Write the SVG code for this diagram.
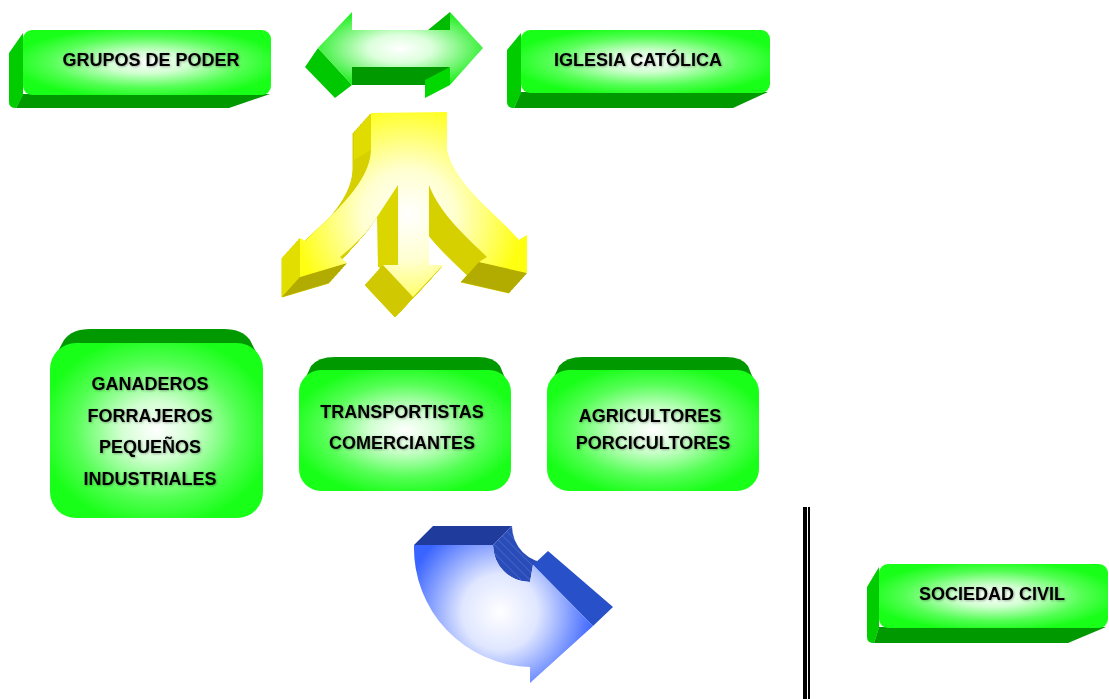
<svg xmlns="http://www.w3.org/2000/svg" xmlns:xlink="http://www.w3.org/1999/xlink" width="1109" height="699" viewBox="0 0 1109 699">
<style>
.lbl{font-family:"Liberation Sans",Arial,sans-serif;font-weight:bold;font-size:18px;fill:#000;text-anchor:middle;filter:url(#tsh)}
.front{fill:url(#gbox)}
.lface{fill:#00cc00}
.bface{fill:#009900}
.tface{fill:#009900}
.ycopy{fill:#d6d000;stroke:#d6d000;stroke-width:1;stroke-linejoin:round}
</style>
<defs>
<radialGradient id="gbox" cx="0.5" cy="0.5" r="0.55">
<stop offset="0" stop-color="#ffffff"/>
<stop offset="0.3" stop-color="#d2ffd2"/>
<stop offset="0.7" stop-color="#55ff55"/>
<stop offset="1" stop-color="#18ff18"/>
</radialGradient>
<radialGradient id="garr" cx="0.5" cy="0.5" r="0.55">
<stop offset="0" stop-color="#ffffff"/>
<stop offset="0.35" stop-color="#dcffdc"/>
<stop offset="1" stop-color="#22ee22"/>
</radialGradient>
<radialGradient id="yarr" gradientUnits="userSpaceOnUse" cx="408" cy="215" r="115">
<stop offset="0" stop-color="#ffffff"/>
<stop offset="0.4" stop-color="#ffffd0"/>
<stop offset="1" stop-color="#ffff10"/>
</radialGradient>
<radialGradient id="barr" gradientUnits="userSpaceOnUse" cx="500" cy="612" r="95">
<stop offset="0" stop-color="#ffffff"/>
<stop offset="0.4" stop-color="#dfe6ff"/>
<stop offset="1" stop-color="#3a64ff"/>
</radialGradient>
<pattern id="hatch" patternUnits="userSpaceOnUse" width="6" height="6" patternTransform="rotate(-45)">
<rect width="6" height="6" fill="#2a4cb8"/>
<line x1="0" y1="0" x2="0" y2="6" stroke="#6080e0" stroke-width="0.8"/>
</pattern>
<filter id="tsh" x="-10%" y="-30%" width="120%" height="160%">
<feDropShadow dx="0.8" dy="0.8" stdDeviation="0.8" flood-color="#000" flood-opacity="0.35"/>
</filter>
<path id="ypath" d="M371,113 L447,112 L447,150 C455,185 495,212 519,240 L527,235 L527,273 L479,262 L487,257 C470,240 440,215 429,185 L429,265 L443,265 L413,297 L383,265 L398,265 L398,185 L377,217 C368,232 355,245 340,257 L347,263 L300,277 L300,238 L305,241 C335,212 370,182 371,150 Z"/>
</defs>
<rect width="1109" height="699" fill="#ffffff"/>

<g id="grupos-de-poder">
<path class="bface" d="M23,94 L270,94 L229,108 L16,108 Z"/>
<path class="lface" d="M23,33 L9,53 L9,102 Q9,108 16,108 L23,95 Z"/>
<rect class="front" x="23" y="30" width="248" height="65" rx="9"/>
<text class="lbl" x="151" y="66">GRUPOS DE PODER</text>
</g>

<g id="iglesia-catolica">
<path class="bface" d="M521,92 L768,92 L733,108 L514,108 Z"/>
<path class="lface" d="M521,33 L507,50 L507,102 Q507,108 514,108 L521,93 Z"/>
<rect class="front" x="521" y="30" width="249" height="63" rx="9"/>
<text class="lbl" x="638" y="66">IGLESIA CATÓLICA</text>
</g>

<g id="sociedad-civil">
<path class="bface" d="M879,627 L1106,627 L1068,643 L874,643 Z"/>
<path class="lface" d="M879,567 L867,587 L867,637 Q867,643 874,643 L879,628 Z"/>
<rect class="front" x="879" y="564" width="229" height="64" rx="9"/>
<text class="lbl" x="992" y="600">SOCIEDAD CIVIL</text>
</g>

<g id="ganaderos">
<path class="tface" d="M52,362 L64,340 Q72,329 90,329 L224,329 Q242,329 250,340 L261,362 Z"/>
<rect class="front" x="50" y="343" width="213" height="175" rx="26"/>
<text class="lbl" x="150" y="390">GANADEROS</text>
<text class="lbl" x="150" y="422">FORRAJEROS</text>
<text class="lbl" x="150" y="453">PEQUEÑOS</text>
<text class="lbl" x="150" y="485">INDUSTRIALES</text>
</g>

<g id="transportistas">
<path class="tface" d="M301,388 L311,366 Q318,357 335,357 L478,357 Q494,357 500,366 L509,388 Z"/>
<rect class="front" x="299" y="370" width="212" height="121" rx="22"/>
<text class="lbl" x="402" y="418">TRANSPORTISTAS</text>
<text class="lbl" x="402" y="449">COMERCIANTES</text>
</g>

<g id="agricultores">
<path class="tface" d="M549,388 L559,366 Q566,357 583,357 L726,357 Q742,357 748,366 L757,388 Z"/>
<rect class="front" x="547" y="370" width="212" height="121" rx="22"/>
<text class="lbl" x="650" y="422">AGRICULTORES</text>
<text class="lbl" x="653" y="449">PORCICULTORES</text>
</g>

<g id="connectors">
<g id="double-arrow">
<polygon points="352,67 450,67 425,85 352,85" fill="#009900"/>
<polygon points="450,67 450,85 425,98 425,80" fill="#00d800"/>
<polygon points="428,30 450,12 450,30" fill="#00bb00"/>
<polygon points="318,48 305,67 335,98 352,85" fill="#00c800"/>
<polygon points="318,48 352,12 352,30 450,30 450,12 483,48 450,85 450,67 352,67 352,85" fill="url(#garr)"/>
</g>

<g id="trident-arrow">
<use xlink:href="#ypath" class="ycopy" transform="translate(-18,20)"/>
<use xlink:href="#ypath" class="ycopy" transform="translate(-16.5,18.33)"/>
<use xlink:href="#ypath" class="ycopy" transform="translate(-15,16.67)"/>
<use xlink:href="#ypath" class="ycopy" transform="translate(-13.5,15)"/>
<use xlink:href="#ypath" class="ycopy" transform="translate(-12,13.33)"/>
<use xlink:href="#ypath" class="ycopy" transform="translate(-10.5,11.67)"/>
<use xlink:href="#ypath" class="ycopy" transform="translate(-9,10)"/>
<use xlink:href="#ypath" class="ycopy" transform="translate(-7.5,8.33)"/>
<use xlink:href="#ypath" class="ycopy" transform="translate(-6,6.67)"/>
<use xlink:href="#ypath" class="ycopy" transform="translate(-4.5,5)"/>
<use xlink:href="#ypath" class="ycopy" transform="translate(-3,3.33)"/>
<use xlink:href="#ypath" class="ycopy" transform="translate(-1.5,1.67)"/>
<polygon points="372,113 354,133 354,160 371,150" fill="#e0dc00"/>
<polygon points="398,185 377,217 378,267 398,265" fill="#dcd600"/>
<polygon points="300,238 300,277 282,297 282,258" fill="#e2de00"/>
<polygon points="300,277 347,263 329,283 282,297" fill="#b2ab00"/>
<polygon points="383,265 413,297 395,317 365,285" fill="#d0c800"/>
<polygon points="479,262 527,273 509,293 461,282" fill="#b2ab00"/>
<use xlink:href="#ypath" fill="url(#yarr)"/>
</g>

<g id="curved-arrow">
<path d="M414,545 L433,526 L512,526 L493,545 Z" fill="#1f3c9c"/>
<path d="M493,545 L512,526 A37,37 0 0 0 549,563 L533,565 L530,582 A37,37 0 0 1 493,545 Z" fill="url(#hatch)"/>
<path d="M533,565 L548,551 L613,607 L593,626 Z" fill="#2850c8"/>
<path d="M414,545 L493,545 A37,37 0 0 0 530,582 L533,565 L593,626 L530,683 L530,667 A119,119 0 0 1 414,545 Z" fill="url(#barr)"/>
</g>

<g id="divider">
<rect x="803" y="507" width="4" height="192" fill="#000"/>
<rect x="808" y="507" width="2" height="192" fill="#000"/>
</g>
</g>
</svg>
